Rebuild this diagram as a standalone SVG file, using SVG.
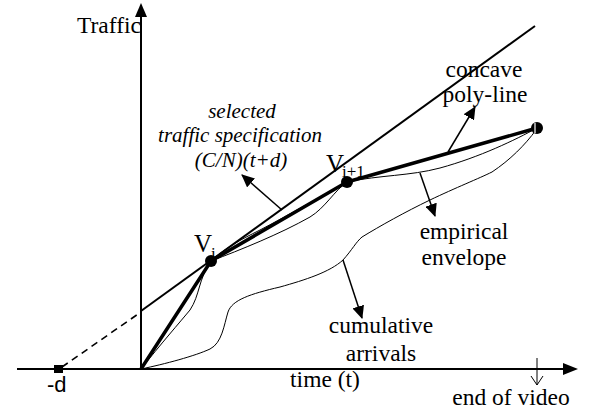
<svg xmlns="http://www.w3.org/2000/svg" width="590" height="414" viewBox="0 0 590 414">
  <style>
    .axis { stroke: #000; stroke-width: 2; fill: none; }
    .spec { stroke: #000; stroke-width: 2; fill: none; }
    .dash { stroke: #000; stroke-width: 1.6; fill: none; stroke-dasharray: 7 5; }
    .poly { stroke: #000; stroke-width: 3.5; fill: none; stroke-linejoin: round; }
    .thin { stroke: #000; stroke-width: 1; fill: none; }
    .ptr { stroke: #000; stroke-width: 1.5; fill: none; marker-end: url(#tri); }
    .lbl { font-family: "Liberation Serif", "Times New Roman", serif; font-size: 23.5px; fill: #000; }
    .it { font-style: italic; text-anchor: middle; font-size: 21px; }
    .mid { text-anchor: middle; }
    .sans { font-family: "Liberation Sans", Arial, sans-serif; font-size: 22px; }
    .big { font-size: 25px; }
    .sub { font-size: 17px; }
  </style>
  <defs>
    <marker id="tri" markerUnits="userSpaceOnUse" markerWidth="14" markerHeight="12" refX="12" refY="6" orient="auto">
      <path d="M0,0 L13,6 L0,12 Z" fill="#000"/>
    </marker>
  </defs>
  <rect width="590" height="414" fill="#fff"/>

  <!-- axes -->
  <g id="axes">
    <line class="axis" x1="141" y1="370" x2="141" y2="12"/>
    <path d="M135,17 L141,3 L147,17 Z" fill="#000"/>
    <line class="axis" x1="17" y1="369" x2="566" y2="369"/>
    <path d="M563,363 L578,369 L563,375 Z" fill="#000"/>
    <text class="lbl" x="77" y="33">Traffic</text>
    <text class="lbl mid" x="325" y="387">time (t)</text>
  </g>

  <!-- -d point -->
  <g id="minus-d">
    <rect x="54" y="365" width="9" height="8" fill="#000"/>
    <text class="lbl sans" x="47" y="392">-d</text>
  </g>

  <g id="connectors">
    <!-- selected traffic specification line -->
    <line class="dash" x1="62" y1="367" x2="141" y2="312"/>
    <line class="spec" x1="141" y1="311" x2="535" y2="26"/>

    <!-- cumulative arrivals -->
    <path class="thin" d="M141,369 C165,364 195,356 210,349 C222,343 224,325 228,312 C232,300 250,294 280,287 C305,280 330,272 343,260 C352,250 356,242 362,237 C380,226 405,212 430,200 C455,188 480,178 492,172 C510,160 525,145 536,130"/>

    <!-- empirical envelope -->
    <path class="thin" d="M141,369 C160,345 180,322 190,310 C200,295 198,280 211,261 C240,250 280,234 310,217 C325,208 335,190 347,182 C380,175 410,176 440,168 C480,157 515,140 537,128"/>
    <path class="thin" d="M211,261 C225,248 240,240 260,230 C285,217 305,205 325,195"/>

    <!-- concave poly-line -->
    <polyline class="poly" points="141,369 211,261 347,182 537,128"/>

    <!-- label pointers -->
    <line class="ptr" x1="282" y1="210" x2="242" y2="175"/>
    <line class="ptr" x1="448" y1="152" x2="475" y2="107"/>
    <line class="ptr" x1="420" y1="173" x2="435" y2="216"/>
    <line class="ptr" x1="343" y1="260" x2="362" y2="318"/>

    <!-- end of video marker -->
    <line class="thin" x1="537" y1="358" x2="537" y2="385" stroke-width="1.5"/>
    <polyline class="thin" points="531,376 537,385 543,376" stroke-width="1.5"/>
  </g>

  <g id="vertex-i">
    <circle cx="211" cy="261" r="6" fill="#000"/>
    <text class="lbl big" x="194" y="252">V</text>
    <text class="lbl sub" x="211" y="259">i</text>
  </g>

  <g id="vertex-i1">
    <circle cx="347" cy="182" r="6" fill="#000"/>
    <text class="lbl big" x="326" y="172">V</text>
    <text class="lbl sub" x="342" y="177">i+1</text>
  </g>

  <g id="vertex-end">
    <circle cx="537" cy="128" r="6" fill="#000"/>
    <line x1="535" y1="123" x2="535" y2="133" stroke="#fff" stroke-width="1.2"/>
  </g>

  <g id="label-spec">
    <text class="lbl it" x="242" y="118">selected</text>
    <text class="lbl it" x="240" y="142">traffic specification</text>
    <text class="lbl it" x="241" y="167">(C/N)(t+d)</text>
  </g>

  <g id="label-poly">
    <text class="lbl mid" x="484" y="77">concave</text>
    <text class="lbl mid" x="485" y="102">poly-line</text>
  </g>

  <g id="label-envelope">
    <text class="lbl mid" x="464" y="239">empirical</text>
    <text class="lbl mid" x="464" y="265">envelope</text>
  </g>

  <g id="label-arrivals">
    <text class="lbl mid" x="381" y="333">cumulative</text>
    <text class="lbl mid" x="381" y="361">arrivals</text>
  </g>

  <g id="label-end">
    <text class="lbl mid" x="511" y="405">end of video</text>
  </g>
</svg>
